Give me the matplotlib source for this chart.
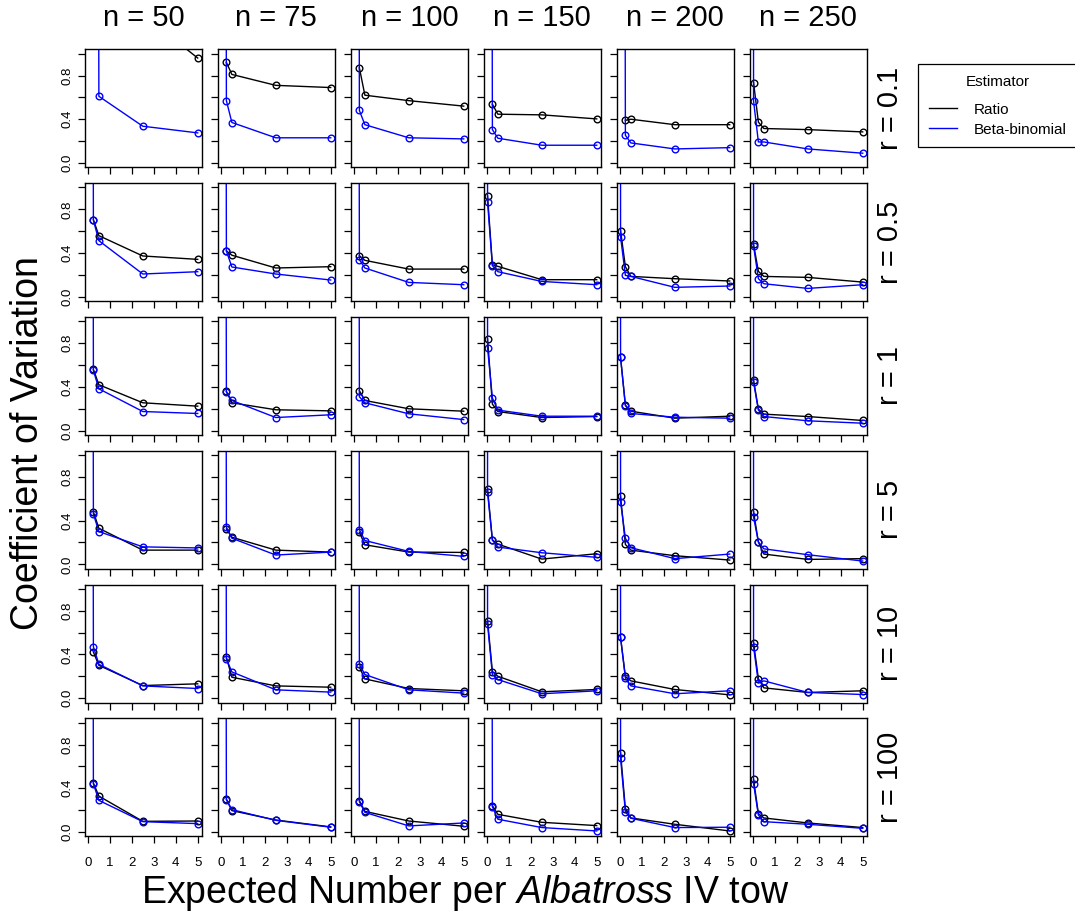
import numpy as np
import matplotlib
matplotlib.use("Agg")
import matplotlib.pyplot as plt
from matplotlib.lines import Line2D

plt.rcParams['font.family'] = ['Liberation Sans', 'DejaVu Sans']
plt.rcParams['mathtext.fontset'] = 'custom'
plt.rcParams['mathtext.rm'] = 'Liberation Sans'
plt.rcParams['mathtext.it'] = 'Liberation Sans:italic'

nan = np.nan
H = 25.0  # CV far above the plotted range (off the chart)

# Expected number per Albatross IV tow
x_expected = [0.003, 0.03, 0.25, 0.5, 2.5, 5.0]
n_labels = ["n = 50", "n = 75", "n = 100", "n = 150", "n = 200", "n = 250"]
r_labels = ["r = 0.1", "r = 0.5", "r = 1", "r = 5", "r = 10", "r = 100"]
estimators = ["Ratio", "Beta-binomial"]

# Coefficient of variation, one list per n (columns), per r (rows)
ratio_r0_1 = [[nan, nan, 2.0, 1.8, 1.36, 0.96],
              [nan, nan, 0.92, 0.81, 0.71, 0.69],
              [nan, nan, 0.87, 0.62, 0.57, 0.52],
              [nan, nan, 0.537, 0.446, 0.44, 0.403],
              [nan, nan, 0.39, 0.40, 0.35, 0.35],
              [nan, 0.736, 0.373, 0.315, 0.305, 0.284]]
bb_r0_1 = [[H, H, H, 0.61, 0.336, 0.275],
           [H, H, 0.57, 0.37, 0.23, 0.23],
           [H, H, 0.48, 0.35, 0.23, 0.22],
           [H, H, 0.305, 0.226, 0.162, 0.162],
           [H, H, 0.253, 0.183, 0.128, 0.14],
           [H, 0.568, 0.192, 0.192, 0.128, 0.089]]

ratio_r0_5 = [[nan, nan, 0.705, 0.559, 0.373, 0.342],
              [nan, nan, 0.42, 0.38, 0.263, 0.275],
              [nan, nan, 0.375, 0.333, 0.253, 0.253],
              [nan, 0.922, 0.293, 0.278, 0.156, 0.156],
              [nan, 0.605, 0.275, 0.186, 0.165, 0.144],
              [nan, 0.479, 0.232, 0.186, 0.177, 0.134]]
bb_r0_5 = [[H, H, 0.70, 0.513, 0.208, 0.229],
           [H, H, 0.418, 0.272, 0.208, 0.153],
           [H, H, 0.339, 0.263, 0.131, 0.11],
           [H, 0.867, 0.284, 0.229, 0.14, 0.11],
           [H, 0.55, 0.195, 0.186, 0.086, 0.098],
           [H, 0.464, 0.165, 0.119, 0.076, 0.11]]

ratio_r1 = [[nan, nan, 0.56, 0.419, 0.254, 0.223],
            [nan, nan, 0.358, 0.254, 0.19, 0.18],
            [nan, nan, 0.364, 0.275, 0.199, 0.177],
            [nan, 0.838, 0.242, 0.174, 0.119, 0.128],
            [nan, 0.67, 0.232, 0.177, 0.113, 0.131],
            [nan, 0.462, 0.196, 0.15, 0.128, 0.092]]
bb_r1 = [[H, H, 0.55, 0.382, 0.174, 0.156],
         [H, H, 0.352, 0.275, 0.119, 0.144],
         [H, H, 0.309, 0.254, 0.153, 0.10],
         [H, 0.758, 0.297, 0.187, 0.131, 0.131],
         [H, 0.67, 0.229, 0.156, 0.122, 0.113],
         [H, 0.443, 0.187, 0.128, 0.089, 0.067]]

ratio_r5 = [[nan, nan, 0.48, 0.33, 0.13, 0.13],
            [nan, nan, 0.324, 0.248, 0.13, 0.112],
            [nan, nan, 0.294, 0.179, 0.112, 0.109],
            [nan, 0.688, 0.224, 0.185, 0.048, 0.097],
            [nan, 0.621, 0.182, 0.13, 0.079, 0.039],
            [nan, 0.482, 0.203, 0.094, 0.045, 0.052]]
bb_r5 = [[H, H, 0.46, 0.30, 0.16, 0.15],
         [H, H, 0.342, 0.239, 0.085, 0.112],
         [H, H, 0.318, 0.218, 0.118, 0.073],
         [H, 0.658, 0.221, 0.158, 0.106, 0.064],
         [H, 0.573, 0.239, 0.152, 0.052, 0.094],
         [H, 0.433, 0.206, 0.142, 0.088, 0.03]]

ratio_r10 = [[nan, nan, 0.422, 0.30, 0.115, 0.131],
             [nan, nan, 0.374, 0.191, 0.112, 0.10],
             [nan, nan, 0.283, 0.176, 0.088, 0.067],
             [nan, 0.708, 0.243, 0.20, 0.058, 0.079],
             [nan, 0.556, 0.198, 0.158, 0.079, 0.03],
             [nan, 0.508, 0.176, 0.094, 0.052, 0.067]]
bb_r10 = [[H, H, 0.471, 0.31, 0.112, 0.088],
          [H, H, 0.359, 0.24, 0.076, 0.055],
          [H, H, 0.31, 0.216, 0.076, 0.046],
          [H, 0.678, 0.216, 0.17, 0.04, 0.067],
          [H, 0.556, 0.185, 0.112, 0.04, 0.067],
          [H, 0.471, 0.14, 0.158, 0.052, 0.033]]

ratio_r100 = [[nan, nan, 0.447, 0.328, 0.097, 0.10],
              [nan, nan, 0.30, 0.195, 0.109, 0.046],
              [nan, nan, 0.286, 0.188, 0.10, 0.052],
              [nan, nan, 0.24, 0.161, 0.088, 0.058],
              [nan, 0.723, 0.21, 0.128, 0.07, 0.009],
              [nan, 0.48, 0.167, 0.128, 0.082, 0.04]]
bb_r100 = [[H, H, 0.441, 0.289, 0.094, 0.076],
           [H, H, 0.295, 0.204, 0.106, 0.043],
           [H, H, 0.277, 0.179, 0.055, 0.082],
           [H, H, 0.231, 0.116, 0.04, 0.009],
           [H, 0.678, 0.182, 0.125, 0.04, 0.043],
           [H, 0.441, 0.155, 0.094, 0.07, 0.033]]

ratio_rows = [ratio_r0_1, ratio_r0_5, ratio_r1, ratio_r5, ratio_r10, ratio_r100]
bb_rows = [bb_r0_1, bb_r0_5, bb_r1, bb_r5, bb_r10, bb_r100]

W, HP = 1075, 918
fig = plt.figure(figsize=(W / 100, HP / 100), dpi=100)

left0, top0 = 84.6, 49.3
pw, ph = 117.5, 118.0
dx, dy = 133.0, 133.8

lw = 1.0
ms = 4.8
yt = [0.0, 0.2, 0.4, 0.6, 0.8, 1.0]
ytl = ["0.0", "", "0.4", "", "0.8", ""]

for i in range(6):
    for j in range(6):
        x0 = left0 + j * dx
        y0 = top0 + i * dy
        ax = fig.add_axes([x0 / W, 1 - (y0 + ph) / HP, pw / W, ph / HP])
        ax.plot(x_expected, ratio_rows[i][j], color="black", lw=lw, marker="o",
                ms=ms, mfc="none", mew=1.0)
        ax.plot(x_expected, bb_rows[i][j], color="blue", lw=lw, marker="o",
                ms=ms, mfc="none", mew=1.0)
        ax.set_xlim(-0.15, 5.2)
        ax.set_ylim(-0.04, 1.04)
        ax.set_xticks(range(6))
        ax.set_yticks(yt)
        for s in ax.spines.values():
            s.set_linewidth(1.0)
        ax.tick_params(direction="out", length=5, width=0.9, labelsize=9.5,
                       colors="black")
        if j == 0:
            ax.set_yticklabels(ytl, rotation=90, va="center")
            ax.tick_params(axis="y", pad=3)
        else:
            ax.set_yticklabels([])
        if i == 5:
            ax.set_xticklabels([str(k) for k in range(6)])
            ax.tick_params(axis="x", pad=10)
        else:
            ax.set_xticklabels([])
        if i == 0:
            fig.text((x0 + pw / 2) / W, 1 - 18 / HP, n_labels[j], ha="center",
                     va="center", fontsize=21)
        if j == 5:
            fig.text(890 / W, 1 - (y0 + ph / 2) / HP, r_labels[i], ha="center",
                     va="center", rotation=90, fontsize=21)

cy = (top0 + 5 * dy + ph + top0) / 2
fig.text(28 / W, 1 - cy / HP, "Coefficient of Variation", rotation=90,
         ha="center", va="center", fontsize=27)
fig.text(465 / W, 1 - 893 / HP, r"Expected Number per $\mathit{Albatross}$ IV tow",
         ha="center", va="center", fontsize=27)

handles = [Line2D([], [], color="black", lw=lw), Line2D([], [], color="blue", lw=lw)]
leg = fig.legend(handles, estimators, title="Estimator", loc="upper left",
                 bbox_to_anchor=(918 / W, 1 - 64 / HP), borderaxespad=0,
                 frameon=True, fancybox=False, edgecolor="black", fontsize=11,
                 title_fontsize=11, handlelength=1.85, borderpad=0.7,
                 labelspacing=0.4, handletextpad=1.1, framealpha=1)
leg._legend_box.sep = 10
leg.get_frame().set_linewidth(0.9)

fig.savefig("out.png", dpi=100)
